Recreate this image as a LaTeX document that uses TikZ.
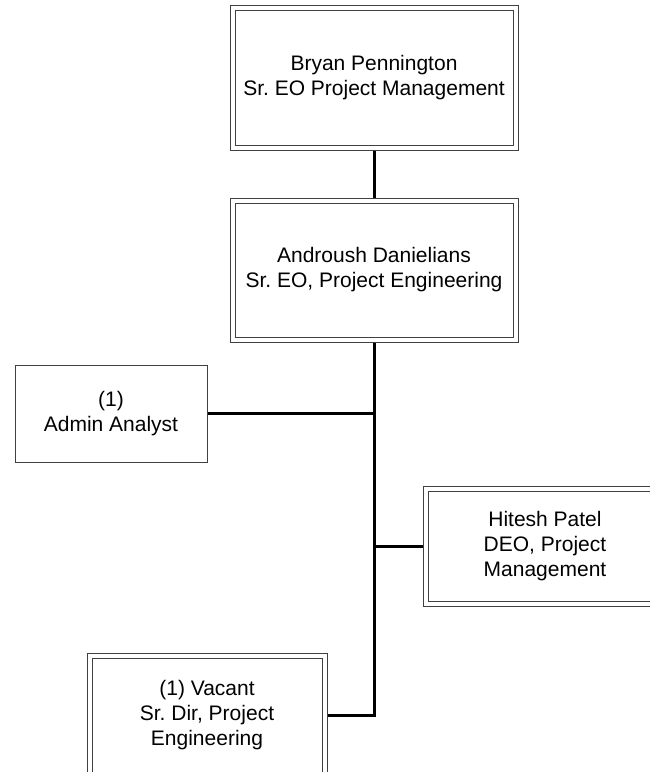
\documentclass[tikz,border=0pt]{standalone}
\usepackage{fontspec}
\setmainfont{Liberation Sans}
\usetikzlibrary{backgrounds}
\frenchspacing
\begin{document}
\begin{tikzpicture}[x=1pt,y=-1pt,
  box/.style={draw=black!75, line width=1pt, fill=white, align=center,
    font=\fontsize{21}{25}\selectfont, inner sep=0pt},
  dbox/.style={box, double=white, double distance=4pt},
  link/.style={line width=3pt, draw=black}]
\useasboundingbox (0,0) rectangle (650,772);
\clip (0,0) rectangle (650,772);
\node[dbox, minimum width=283pt, minimum height=140pt] (bp) at (374,77.5)
    {Bryan Pennington\\Sr. EO Project Management};
\node[dbox, minimum width=283pt, minimum height=139pt] (dan) at (374,270)
    {Androush Danielians\\Sr. EO, Project Engineering};
\node[box, minimum width=192pt, minimum height=97pt] (admin) at (111,413.5)
    {(1)\\Admin Analyst};
\node[dbox, minimum width=239pt, minimum height=115pt] (hp) at (545,546)
    {Hitesh Patel\\DEO, Project\\Management};
\node[dbox, minimum width=235pt, minimum height=119pt] (vac) at (207,715)
    {(1) Vacant\\Sr. Dir, Project\\Engineering};
\begin{pgfonlayer}{background}
\draw[link] (bp.south) -- (dan.north);
\draw[link] (dan.south) -- (dan.south |- vac.east) -- (vac.east);
\draw[link] (admin.east) -- (admin.east -| dan.south);
\draw[link] (hp.west) -- (hp.west -| dan.south);
\end{pgfonlayer}
\end{tikzpicture}
\end{document}
